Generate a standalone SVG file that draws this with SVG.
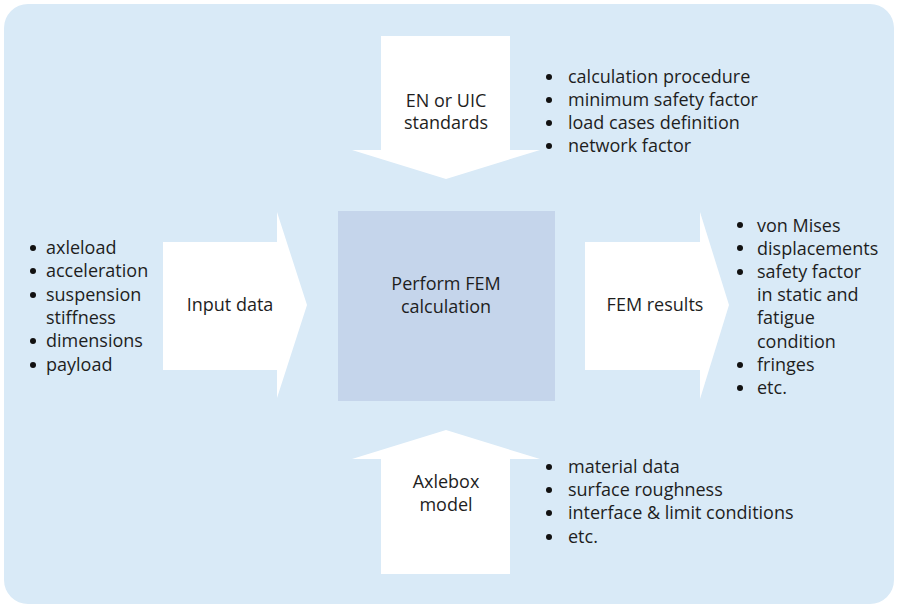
<svg xmlns="http://www.w3.org/2000/svg" width="897" height="609" viewBox="0 0 897 609">
<style>
text{font-family:"Open Sans","Noto Sans","Liberation Sans",sans-serif;font-size:18px;fill:#1e1e1e}
.c{text-anchor:middle}
.arrow{fill:#fff}
.bul{fill:#111}
</style>
<rect x="4" y="4" width="890" height="600" rx="24" fill="#d9eaf7"/>
<g id="center">
<rect x="338" y="211" width="217" height="190" fill="#c5d5eb"/>
<text class="c" x="446" y="290">Perform FEM</text>
<text class="c" x="446" y="313">calculation</text>
</g>
<g id="connectors">
<g id="top-arrow">
<polygon class="arrow" points="381,36 510,36 510,150 540,150 446,179 352,150 381,150"/>
<text class="c" x="446" y="107">EN or UIC</text>
<text class="c" x="446" y="129">standards</text>
</g>
<g id="left-arrow">
<polygon class="arrow" points="163,242 277,242 277,212 307,305 277,398 277,370 163,370"/>
<text class="c" x="230" y="311">Input data</text>
</g>
<g id="right-arrow">
<polygon class="arrow" points="585,242 700,242 700,212 729,305 700,399 700,370 585,370"/>
<text class="c" x="655" y="311">FEM results</text>
</g>
<g id="bottom-arrow">
<polygon class="arrow" points="446,430 540,459 510,459 510,574 381,574 381,459 352,459"/>
<text class="c" x="446" y="488">Axlebox</text>
<text class="c" x="446" y="511">model</text>
</g>
</g>
<g id="standards-list">
<circle class="bul" cx="549" cy="77" r="3"/><text x="568" y="83">calculation procedure</text>
<circle class="bul" cx="549" cy="100" r="3"/><text x="568" y="106">minimum safety factor</text>
<circle class="bul" cx="549" cy="123" r="3"/><text x="568" y="129">load cases definition</text>
<circle class="bul" cx="549" cy="146" r="3"/><text x="568" y="152">network factor</text>
</g>
<g id="input-list">
<circle class="bul" cx="33" cy="248" r="3"/><text x="46" y="254">axleload</text>
<circle class="bul" cx="33" cy="271" r="3"/><text x="46" y="277">acceleration</text>
<circle class="bul" cx="33" cy="295" r="3"/><text x="46" y="301">suspension</text>
<text x="46" y="324">stiffness</text>
<circle class="bul" cx="33" cy="341" r="3"/><text x="46" y="347">dimensions</text>
<circle class="bul" cx="33" cy="365" r="3"/><text x="46" y="371">payload</text>
</g>
<g id="results-list">
<circle class="bul" cx="740" cy="225" r="3"/><text x="757" y="232">von Mises</text>
<circle class="bul" cx="740" cy="248" r="3"/><text x="757" y="255">displacements</text>
<circle class="bul" cx="740" cy="272" r="3"/><text x="757" y="278">safety factor</text>
<text x="757" y="301">in static and</text>
<text x="757" y="324">fatigue</text>
<text x="757" y="348">condition</text>
<circle class="bul" cx="740" cy="365" r="3"/><text x="757" y="371">fringes</text>
<circle class="bul" cx="740" cy="388" r="3"/><text x="757" y="394">etc.</text>
</g>
<g id="model-list">
<circle class="bul" cx="549" cy="467" r="3"/><text x="568" y="473">material data</text>
<circle class="bul" cx="549" cy="490" r="3"/><text x="568" y="496">surface roughness</text>
<circle class="bul" cx="549" cy="513" r="3"/><text x="568" y="519">interface &amp; limit conditions</text>
<circle class="bul" cx="549" cy="537" r="3"/><text x="568" y="543">etc.</text>
</g>
</svg>
